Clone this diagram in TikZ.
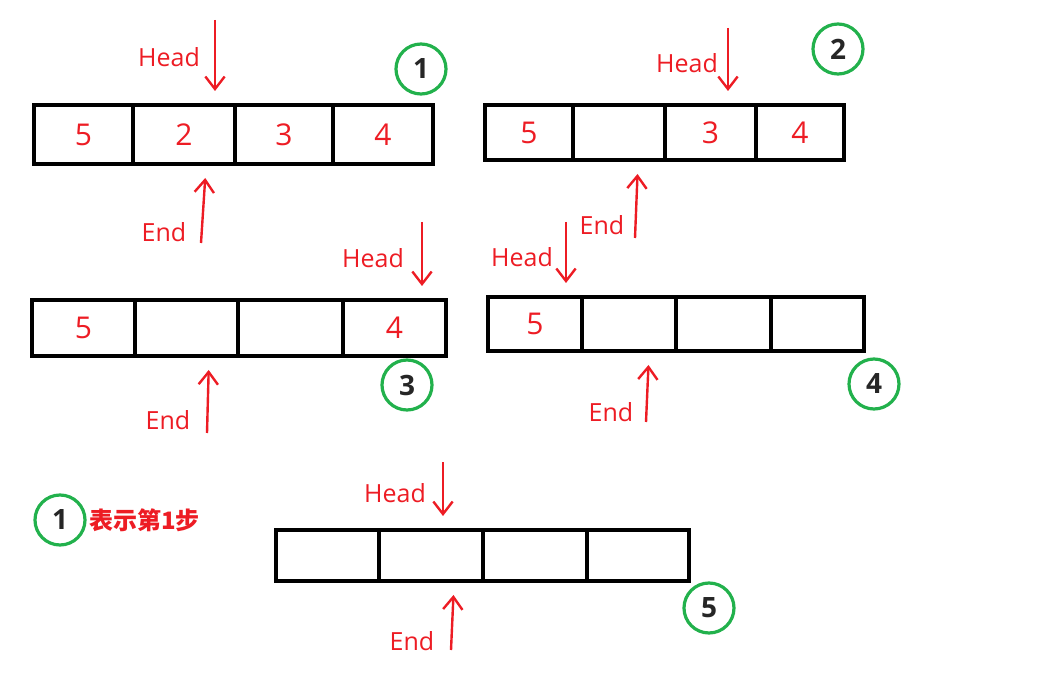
\documentclass[tikz,border=0pt]{standalone}
\usepackage{fontspec}
\setmainfont{Open Sans}
\newfontfamily\cjk{Noto Sans CJK SC}
\usetikzlibrary{arrows.meta,positioning,calc}
\definecolor{pen}{RGB}{237,28,36}
\definecolor{okgreen}{RGB}{34,177,76}
\tikzset{
  cell/.style={draw, line width=2pt, inner sep=0pt, text=pen,
               font=\fontsize{15}{15}\selectfont},
  ptrlbl/.style={text=pen, inner sep=1pt, font=\fontsize{12.5}{14}\selectfont},
  ptr/.style={draw=pen, line width=1.2pt, shorten >=6pt,
              -{Straight Barb[length=2.2mm,width=3.4mm]}},
  stepmark/.style={circle, draw=okgreen, line width=1.6pt, minimum size=25pt,
                   inner sep=0pt, text=black!85, font=\bfseries\fontsize{14}{14}\selectfont}
}

\begin{document}
\begin{tikzpicture}[x=0.5pt, y=-0.5pt]
\useasboundingbox (0,0) rectangle (1045,684);

% step 1
\foreach \i/\l/\r/\v in {1/34/133/5, 2/133/235/2, 3/235/333/3, 4/333/433/4}
  \node[cell, minimum width={(\r-\l)*0.5pt}, minimum height=29.5pt]
    (s1c\i) at ({(\l+\r)/2},134.5) {\v};
\coordinate (h1) at (215,20);
\coordinate (e1) at (201,243);
\node[ptrlbl] (h1lbl) at (169,57) {Head};
\node[ptrlbl] (e1lbl) at (164,232) {End};
\draw[ptr] (h1) -- (h1 |- s1c2.north);
\draw[ptr] (e1) -- ($(e1 |- s1c2.south)+(5,0)$);
\node[stepmark] (m1) at (421,69) {1};

% step 2
\foreach \i/\l/\r/\v in {1/485/573/5, 2/573/665/{}, 3/665/756/3, 4/756/844/4}
  \node[cell, minimum width={(\r-\l)*0.5pt}, minimum height=27.5pt]
    (s2c\i) at ({(\l+\r)/2},132.5) {\v};
\coordinate (h2) at (728,28);
\coordinate (e2) at (635,238);
\node[ptrlbl] (h2lbl) at (687,63) {Head};
\node[ptrlbl] (e2lbl) at (602,225) {End};
\draw[ptr] (h2) -- (h2 |- s2c3.north);
\draw[ptr] (e2) -- ($(e2 |- s2c2.south)+(3,0)$);
\node[stepmark] (m2) at (838,49) {2};

% step 3
\foreach \i/\l/\r/\v in {1/32/135/5, 2/135/238/{}, 3/238/343/{}, 4/343/446/4}
  \node[cell, minimum width={(\r-\l)*0.5pt}, minimum height=28pt]
    (s3c\i) at ({(\l+\r)/2},328) {\v};
\coordinate (h3) at (422,222);
\coordinate (e3) at (207,433);
\node[ptrlbl] (h3lbl) at (373,258) {Head};
\node[ptrlbl] (e3lbl) at (168,420) {End};
\draw[ptr] (h3) -- (h3 |- s3c4.north);
\draw[ptr] (e3) -- ($(e3 |- s3c2.south)+(2,0)$);
\node[stepmark] (m3) at (407,385) {3};

% step 4
\foreach \i/\l/\r/\v in {1/488/582/5, 2/582/676/{}, 3/676/771/{}, 4/771/864/{}}
  \node[cell, minimum width={(\r-\l)*0.5pt}, minimum height=27pt]
    (s4c\i) at ({(\l+\r)/2},324) {\v};
\coordinate (h4) at (566,222);
\coordinate (e4) at (646,422);
\node[ptrlbl] (h4lbl) at (522,257) {Head};
\node[ptrlbl] (e4lbl) at (611,412) {End};
\draw[ptr] (h4) -- (h4 |- s4c1.north);
\draw[ptr] (e4) -- ($(e4 |- s4c2.south)+(3,0)$);
\node[stepmark] (m4) at (874,384) {4};

% step 5
\foreach \i/\l/\r in {1/276/379, 2/379/483, 3/483/587, 4/587/689}
  \node[cell, minimum width={(\r-\l)*0.5pt}, minimum height=25.5pt]
    (s5c\i) at ({(\l+\r)/2},555.5) {};
\coordinate (h5) at (443,462);
\coordinate (e5) at (451,650);
\node[ptrlbl] (h5lbl) at (395,493) {Head};
\node[ptrlbl] (e5lbl) at (412,641) {End};
\draw[ptr] (h5) -- (h5 |- s5c2.north);
\draw[ptr] (e5) -- ($(e5 |- s5c2.south)+(3,0)$);
\node[stepmark] (m5) at (709,608) {5};

% legend
\node[stepmark] (key) at (60,520) {1};
\node[right=0pt of key, text=pen, inner sep=1pt,
      font=\cjk\bfseries\fontsize{12}{12}\selectfont] (keytxt) {表示第1步};
\end{tikzpicture}
\end{document}
